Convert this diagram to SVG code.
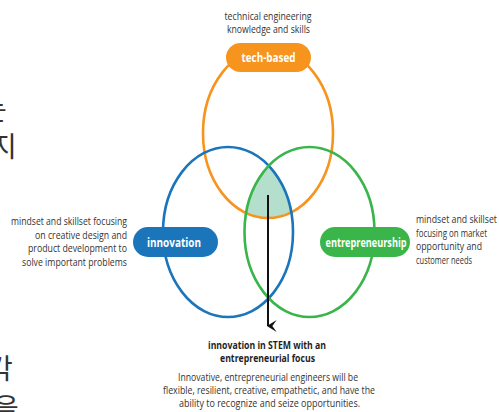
<svg xmlns="http://www.w3.org/2000/svg" width="499" height="412" viewBox="0 0 499 412">
<defs>
<style>
.ring{fill:none;stroke-width:2.6}
.lbl{font-family:"Open Sans","Liberation Sans",sans-serif;font-weight:bold;font-size:12.5px;fill:#fff;text-anchor:middle}
.desc{font-family:"Open Sans","Liberation Sans",sans-serif;font-size:10.5px;fill:#333}
.ttl{font-family:"Open Sans","Liberation Sans",sans-serif;font-weight:bold;font-size:11px;fill:#1e1e1e;text-anchor:middle}
.ko{font-family:"Noto Sans CJK KR","Noto Sans",sans-serif;font-size:28px;fill:#333}
</style>
<clipPath id="cBlue"><ellipse cx="228" cy="232" rx="65" ry="85"/></clipPath>
<clipPath id="cGreen"><ellipse cx="309.5" cy="232" rx="65" ry="85"/></clipPath>
<marker id="ah" viewBox="0 0 12 12" refX="6" refY="10" markerWidth="13" markerHeight="13" markerUnits="userSpaceOnUse" orient="auto-start-reverse">
<path d="M0.5,2 L6,6 L11.5,2 L6,11 Z" fill="#111"/>
</marker>
</defs>
<rect width="499" height="412" fill="#fff"/>

<g id="korean-fragments">
<text class="ko" x="-19" y="120">는</text>
<text class="ko" x="-9" y="157">지</text>
<text class="ko" x="-13" y="379">각</text>
<text class="ko" x="-7" y="419">을</text>
</g>

<g id="overlap">
<g clip-path="url(#cGreen)"><g clip-path="url(#cBlue)">
<ellipse cx="268" cy="133" rx="65" ry="85" fill="#b3dfcc"/>
</g></g>
</g>

<g id="tech-based">
<ellipse class="ring" cx="268" cy="133" rx="65" ry="85" stroke="#f7941d"/>
</g>
<g id="innovation">
<ellipse class="ring" cx="228" cy="232" rx="65" ry="85" stroke="#1b75bb"/>
</g>
<g id="entrepreneurship">
<ellipse class="ring" cx="309.5" cy="232" rx="65" ry="85" stroke="#39b54a"/>
</g>

<g id="connectors">
<line x1="268" y1="195" x2="268" y2="326" stroke="#111" stroke-width="2" marker-end="url(#ah)"/>
</g>

<g id="tech-based-label">
<rect x="226" y="43" width="85" height="29" rx="14.5" fill="#f7941d"/>
<text class="lbl" x="268.5" y="62" textLength="54" lengthAdjust="spacingAndGlyphs">tech-based</text>
<text class="desc" x="268" y="20" text-anchor="middle" textLength="87" lengthAdjust="spacingAndGlyphs">technical engineering</text>
<text class="desc" x="268.5" y="33" text-anchor="middle" textLength="83" lengthAdjust="spacingAndGlyphs">knowledge and skills</text>
</g>

<g id="innovation-label">
<rect x="133" y="227" width="85" height="30" rx="15" fill="#1b75bb"/>
<text class="lbl" x="174" y="246.5" textLength="54" lengthAdjust="spacingAndGlyphs">innovation</text>
<g class="desc" text-anchor="end">
<text x="127" y="225" textLength="116" lengthAdjust="spacingAndGlyphs">mindset and skillset focusing</text>
<text x="127" y="238.5" textLength="92" lengthAdjust="spacingAndGlyphs">on creative design and</text>
<text x="127" y="252" textLength="99" lengthAdjust="spacingAndGlyphs">product development to</text>
<text x="127" y="265.5" textLength="105" lengthAdjust="spacingAndGlyphs">solve important problems</text>
</g>
</g>

<g id="entrepreneurship-label">
<rect x="320" y="227" width="90" height="30" rx="15" fill="#39b54a"/>
<text class="lbl" x="366" y="246.5" textLength="81" lengthAdjust="spacingAndGlyphs">entrepreneurship</text>
<g class="desc">
<text x="416" y="223" textLength="81" lengthAdjust="spacingAndGlyphs">mindset and skillset</text>
<text x="416" y="236.5" textLength="71" lengthAdjust="spacingAndGlyphs">focusing on market</text>
<text x="416" y="250" textLength="66" lengthAdjust="spacingAndGlyphs">opportunity and</text>
<text x="416" y="263.5" textLength="56" lengthAdjust="spacingAndGlyphs">customer needs</text>
</g>
</g>

<g id="result">
<text class="ttl" x="267" y="349" textLength="118" lengthAdjust="spacingAndGlyphs">innovation in STEM with an</text>
<text class="ttl" x="267.5" y="362" textLength="95" lengthAdjust="spacingAndGlyphs">entrepreneurial focus</text>
<g class="desc" text-anchor="middle">
<text x="268" y="381" textLength="180" lengthAdjust="spacingAndGlyphs">Innovative, entrepreneurial engineers will be</text>
<text x="269" y="394" textLength="212" lengthAdjust="spacingAndGlyphs">flexible, resilient, creative, empathetic, and have the</text>
<text x="269.5" y="407" textLength="181" lengthAdjust="spacingAndGlyphs">ability to recognize and seize opportunities.</text>
</g>
</g>
</svg>
